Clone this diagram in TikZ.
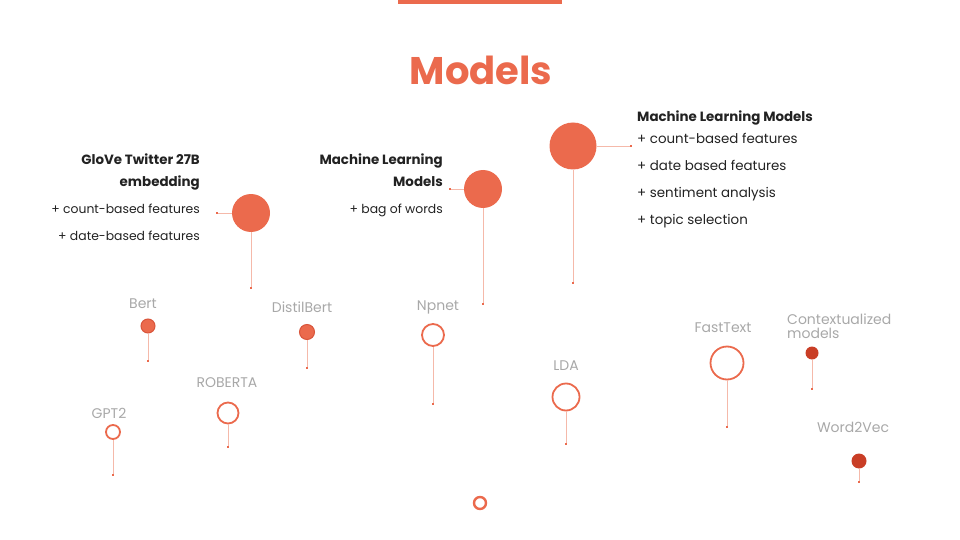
\documentclass[tikz,border=0pt]{standalone}
\usepackage{fontspec}
\setmainfont{Poppins}
\usetikzlibrary{positioning,arrows.meta}
\definecolor{AccentClr}{HTML}{EB6A4D}
\definecolor{EdgeClr}{HTML}{D9553B}
\definecolor{DeepClr}{HTML}{C93E26}
\definecolor{StemClr}{HTML}{F5B9AA}
\definecolor{LabelClr}{HTML}{A8A8A8}
\definecolor{InkClr}{HTML}{222222}
\newcommand{\smallnote}[1]{{\fontsize{12.4}{22}\selectfont #1}}

\begin{document}
\begin{tikzpicture}[x=1pt,y=-1pt,
  disc/.style={circle,inner sep=0pt,fill=AccentClr,minimum size=#1},
  ring/.style={circle,inner sep=0pt,draw=AccentClr,line width=1.8pt,fill=white,minimum size=#1},
  stem/.style={draw=StemClr,line width=0.8pt,-{Square[length=2pt,width=2pt,color=AccentClr]}},
  lbl/.style={text=LabelClr,font=\fontsize{14}{14}\selectfont,inner sep=0pt},
  note/.style={text=InkClr,font=\fontsize{13.4}{22}\selectfont,inner sep=0pt}]
\useasboundingbox (0,0) rectangle (960,540);

% title
\fill[AccentClr] (398,0) rectangle (562,4);
\node[text=AccentClr,font=\fontsize{38.5}{46}\selectfont\bfseries] (title) at (481,70) {Models};

% big nodes with notes
\node[disc=38pt] (glove) at (251,213) {};
\node[disc=38pt] (mlbow) at (483,189) {};
\node[disc=47pt] (mlfull) at (573,146) {};

\coordinate (glove-l) at (216,213);
\coordinate (glove-b) at (251,289);
\coordinate (mlbow-l) at (449,189);
\coordinate (mlbow-b) at (483,305);
\coordinate (mlfull-r) at (632,146);
\coordinate (mlfull-b) at (573,284);

\draw[stem] (glove) -- (glove-l);
\draw[stem] (glove) -- (glove-b);
\draw[stem] (mlbow) -- (mlbow-l);
\draw[stem] (mlbow) -- (mlbow-b);
\draw[stem] (mlfull) -- (mlfull-r);
\draw[stem] (mlfull) -- (mlfull-b);

\node[note,anchor=north east,align=right] (glove-txt) at (200,154)
  {\textbf{GloVe Twitter 27B}\\ \textbf{embedding}\\[5pt]
   \smallnote{+ count-based features}\\[5pt] \smallnote{+ date-based features}};
\node[note,anchor=north east,align=right] (mlbow-txt) at (443,154)
  {\textbf{Machine Learning}\\ \textbf{Models}\\[5pt] \smallnote{+ bag of words}};
\node[note,anchor=north west,align=left] (mlfull-txt) at (637,111)
  {\textbf{Machine Learning Models}\\ + count-based features\\[5pt]
   + date based features\\[5pt] + sentiment analysis\\[5pt] + topic selection};

% small nodes
\node[disc=14pt,draw=EdgeClr,line width=1pt] (bert) at (148,326) {};
\node[disc=15pt,draw=EdgeClr,line width=1pt] (distil) at (307,332) {};
\node[ring=14pt] (gpt) at (113,432) {};
\node[ring=21pt] (roberta) at (228,413) {};
\node[ring=22pt] (npnet) at (433,335) {};
\node[ring=27pt] (lda) at (566,397) {};
\node[ring=12pt,line width=2.4pt] (extra) at (480,503) {};
\node[ring=33pt] (fasttext) at (727,363) {};
\node[disc=13pt,fill=DeepClr] (context) at (812,353) {};
\node[disc=15pt,fill=DeepClr] (wordvec) at (859,461) {};

\coordinate (bert-b) at (148,362);
\coordinate (distil-b) at (307,369);
\coordinate (gpt-b) at (113,476);
\coordinate (roberta-b) at (228,448);
\coordinate (npnet-b) at (433,405);
\coordinate (lda-b) at (566,445);
\coordinate (fasttext-b) at (727,428);
\coordinate (context-b) at (812,390);
\coordinate (wordvec-b) at (859,483);

\foreach \n in {bert,distil,gpt,roberta,npnet,lda,fasttext,context,wordvec}
  \draw[stem] (\n) -- (\n-b);

\node[lbl] (bert-lbl) at (143,304) {Bert};
\node[lbl] (distil-lbl) at (302,307) {DistilBert};
\node[lbl] (gpt-lbl) at (109,413) {GPT2};
\node[lbl] (roberta-lbl) at (227,383) {ROBERTA};
\node[lbl] (npnet-lbl) at (438,307) {Npnet};
\node[lbl] (lda-lbl) at (566,366) {LDA};
\node[lbl] (fasttext-lbl) at (723,328) {FastText};
\node[lbl,anchor=west,align=left] (context-lbl) at (787,326) {Contextualized\\models};
\node[lbl] (wordvec-lbl) at (853,427) {Word2Vec};

\end{tikzpicture}
\end{document}
